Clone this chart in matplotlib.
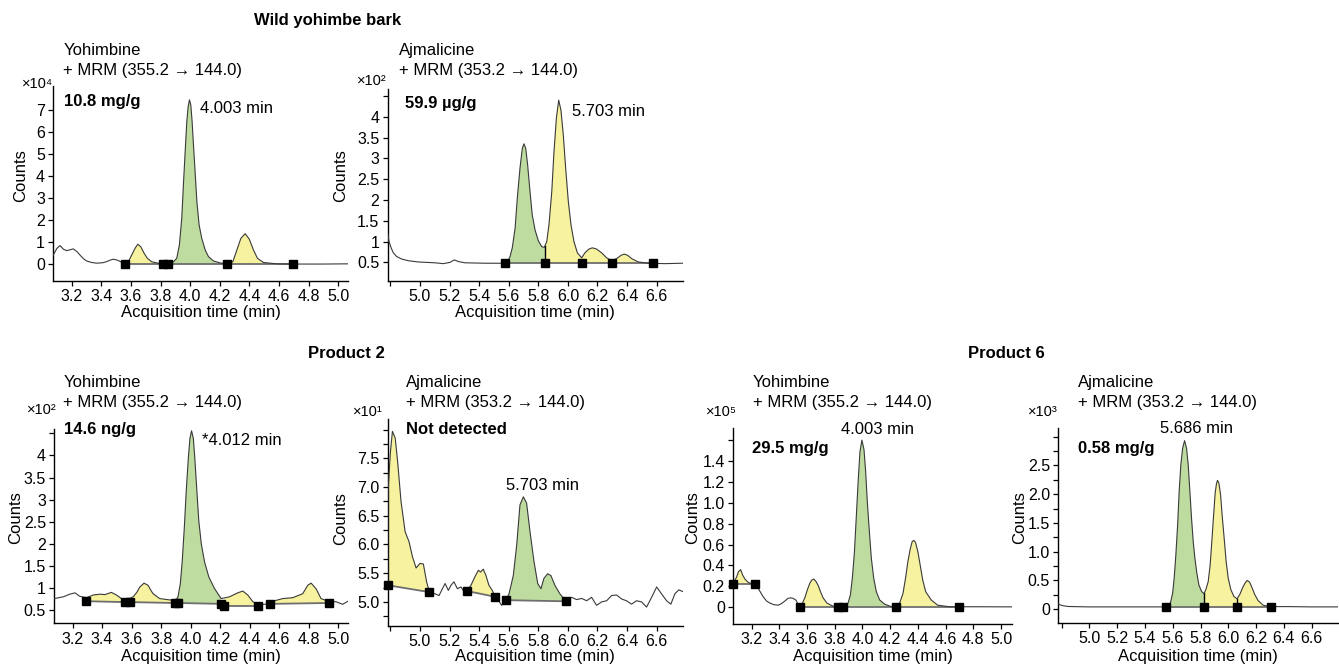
import numpy as np
import matplotlib
matplotlib.use("Agg")
import matplotlib.pyplot as plt

plt.rcParams["font.family"] = ["Liberation Sans", "DejaVu Sans"]
plt.rcParams["font.size"] = 12

W, H = 1339, 669

# --- chromatogram traces: (time min, counts in axis units) ---
bark_yoh = [(3.076, 0.42), (3.1, 0.72), (3.121, 0.85), (3.145, 0.68), (3.166, 0.62), (3.19, 0.66),
            (3.211, 0.70), (3.235, 0.58), (3.256, 0.42), (3.28, 0.25), (3.301, 0.15), (3.335, 0.08),
            (3.369, 0.05), (3.41, 0.07), (3.436, 0.12), (3.46, 0.19), (3.481, 0.23), (3.5, 0.20),
            (3.515, 0.17), (3.54, 0.08), (3.56, 0.05), (3.583, 0.12), (3.605, 0.42), (3.628, 0.73),
            (3.646, 0.91), (3.666, 0.80), (3.689, 0.50), (3.711, 0.27), (3.741, 0.11), (3.797, 0.03),
            (3.84, 0.02), (3.887, 0.12), (3.909, 0.27), (3.927, 0.88), (3.943, 2.09), (3.954, 3.60),
            (3.966, 5.12), (3.977, 6.48), (3.986, 7.16), (3.995, 7.47), (4.004, 7.24), (4.013, 6.48),
            (4.022, 5.42), (4.033, 4.21), (4.045, 2.85), (4.06, 1.79), (4.078, 1.18), (4.101, 0.65),
            (4.123, 0.35), (4.157, 0.15), (4.202, 0.06), (4.245, 0.03), (4.288, 0.12), (4.315, 0.65),
            (4.342, 1.18), (4.371, 1.39), (4.398, 1.15), (4.427, 0.65), (4.454, 0.27), (4.495, 0.08),
            (4.585, 0.02), (4.69, 0.01), (4.9, 0.01), (5.065, 0.02)]

bark_ajm = [(4.782, 1.20), (4.791, 1.00), (4.805, 0.85), (4.82, 0.73), (4.843, 0.64), (4.877, 0.58),
            (4.922, 0.54), (4.989, 0.51), (5.102, 0.49), (5.158, 0.47), (5.203, 0.50), (5.232, 0.56),
            (5.26, 0.52), (5.305, 0.49), (5.44, 0.48), (5.575, 0.48), (5.593, 0.52), (5.609, 0.64),
            (5.624, 0.85), (5.643, 1.32), (5.658, 2.04), (5.676, 2.76), (5.692, 3.24), (5.703, 3.35),
            (5.715, 3.24), (5.728, 2.84), (5.744, 2.20), (5.759, 1.64), (5.778, 1.28), (5.8, 1.02),
            (5.823, 0.88), (5.84, 0.86), (5.857, 1.00), (5.872, 1.40), (5.891, 2.20), (5.906, 3.16),
            (5.922, 3.96), (5.938, 4.40), (5.953, 4.16), (5.969, 3.56), (5.985, 2.76), (6.003, 1.96),
            (6.021, 1.40), (6.041, 1.00), (6.064, 0.73), (6.093, 0.61), (6.115, 0.73), (6.142, 0.82),
            (6.165, 0.85), (6.194, 0.82), (6.228, 0.73), (6.262, 0.61), (6.295, 0.54), (6.329, 0.59),
            (6.359, 0.67), (6.381, 0.70), (6.404, 0.67), (6.431, 0.59), (6.476, 0.51), (6.543, 0.48),
            (6.656, 0.47), (6.776, 0.48)]

p2_yoh = [(3.076, 0.76), (3.137, 0.80), (3.182, 0.86), (3.216, 0.89), (3.249, 0.81), (3.294, 0.78),
          (3.339, 0.84), (3.385, 0.86), (3.419, 0.85), (3.463, 0.90), (3.497, 0.84), (3.531, 0.76),
          (3.57, 0.74), (3.61, 0.80), (3.635, 0.90), (3.655, 1.02), (3.684, 1.11), (3.711, 1.06),
          (3.73, 0.95), (3.745, 0.87), (3.79, 0.76), (3.857, 0.73), (3.9, 0.72), (3.914, 0.80),
          (3.93, 1.10), (3.943, 1.62), (3.957, 2.37), (3.97, 3.20), (3.984, 3.94), (3.995, 4.39),
          (4.006, 4.56), (4.018, 4.39), (4.028, 3.94), (4.042, 3.20), (4.055, 2.52), (4.072, 2.00),
          (4.094, 1.59), (4.123, 1.25), (4.161, 0.99), (4.206, 0.76), (4.235, 0.78), (4.263, 0.80),
          (4.319, 0.89), (4.353, 0.93), (4.387, 0.84), (4.421, 0.69), (4.459, 0.62), (4.5, 0.63),
          (4.538, 0.66), (4.579, 0.72), (4.624, 0.76), (4.692, 0.78), (4.759, 0.87), (4.793, 1.06),
          (4.816, 1.11), (4.85, 0.98), (4.883, 0.76), (4.939, 0.69), (4.984, 0.69), (5.029, 0.63),
          (5.066, 0.70)]

p2_ajm = [(4.782, 5.29), (4.784, 6.90), (4.8, 7.60), (4.814, 7.97), (4.833, 7.85), (4.851, 7.39),
          (4.872, 6.75), (4.9, 6.22), (4.926, 6.05), (4.949, 5.79), (4.974, 5.59), (5.0, 5.67),
          (5.023, 5.66), (5.045, 5.35), (5.064, 5.17), (5.102, 5.14), (5.129, 5.11), (5.152, 5.23),
          (5.17, 5.32), (5.192, 5.20), (5.21, 5.29), (5.23, 5.35), (5.253, 5.23), (5.277, 5.26),
          (5.293, 5.20), (5.316, 5.19), (5.345, 5.29), (5.372, 5.44), (5.395, 5.55), (5.41, 5.52),
          (5.428, 5.57), (5.446, 5.46), (5.466, 5.29), (5.489, 5.20), (5.507, 5.09), (5.53, 5.03),
          (5.552, 4.94), (5.581, 5.03), (5.602, 5.14), (5.631, 5.46), (5.654, 5.99), (5.676, 6.69),
          (5.699, 6.83), (5.721, 6.72), (5.744, 6.22), (5.771, 5.70), (5.796, 5.32), (5.818, 5.23),
          (5.838, 5.41), (5.863, 5.49), (5.885, 5.46), (5.912, 5.29), (5.946, 5.14), (5.987, 5.01),
          (6.025, 5.08), (6.059, 5.04), (6.093, 5.06), (6.127, 5.02), (6.16, 5.08), (6.194, 4.94),
          (6.228, 5.00), (6.262, 5.02), (6.295, 5.11), (6.329, 5.12), (6.363, 5.05), (6.396, 5.02),
          (6.43, 4.96), (6.464, 5.02), (6.498, 5.00), (6.532, 4.91), (6.566, 5.08), (6.6, 5.26),
          (6.633, 5.14), (6.667, 5.02), (6.696, 4.96), (6.723, 5.14), (6.75, 5.21), (6.776, 5.18)]

p6_yoh = [(3.068, 0.22), (3.08, 0.26), (3.092, 0.29), (3.105, 0.34), (3.121, 0.36), (3.135, 0.31),
          (3.152, 0.27), (3.17, 0.245), (3.188, 0.23), (3.205, 0.225), (3.224, 0.22), (3.248, 0.18),
          (3.266, 0.14), (3.284, 0.10), (3.308, 0.06), (3.332, 0.04), (3.36, 0.025), (3.392, 0.02),
          (3.415, 0.035), (3.44, 0.06), (3.462, 0.085), (3.483, 0.09), (3.5, 0.085), (3.519, 0.07),
          (3.535, 0.03), (3.548, 0.01), (3.56, 0.02), (3.584, 0.09), (3.603, 0.17), (3.62, 0.23),
          (3.634, 0.26), (3.649, 0.27), (3.663, 0.25), (3.68, 0.21), (3.697, 0.15), (3.716, 0.09),
          (3.744, 0.04), (3.788, 0.01), (3.85, 0.005), (3.896, 0.04), (3.913, 0.12), (3.927, 0.28),
          (3.942, 0.53), (3.956, 0.88), (3.97, 1.23), (3.982, 1.49), (3.996, 1.60), (4.011, 1.51),
          (4.023, 1.30), (4.035, 1.01), (4.05, 0.72), (4.064, 0.47), (4.081, 0.28), (4.1, 0.15),
          (4.124, 0.07), (4.16, 0.03), (4.208, 0.006), (4.268, 0.04), (4.292, 0.13), (4.311, 0.28),
          (4.328, 0.44), (4.345, 0.56), (4.359, 0.63), (4.371, 0.64), (4.383, 0.62), (4.4, 0.53),
          (4.417, 0.40), (4.435, 0.26), (4.456, 0.15), (4.496, 0.07), (4.543, 0.02), (4.628, 0.005),
          (4.85, 0.005), (5.079, 0.004)]

p6_ajm = [(4.776, 0.087), (4.81, 0.06), (4.848, 0.047), (4.992, 0.04), (5.232, 0.04), (5.471, 0.04),
          (5.553, 0.04), (5.567, 0.045), (5.584, 0.12), (5.599, 0.28), (5.61, 0.54), (5.622, 0.94),
          (5.635, 1.47), (5.646, 2.05), (5.658, 2.51), (5.671, 2.80), (5.685, 2.93), (5.699, 2.80),
          (5.711, 2.51), (5.723, 2.05), (5.735, 1.58), (5.747, 1.18), (5.759, 0.89), (5.773, 0.63),
          (5.788, 0.42), (5.807, 0.31), (5.824, 0.27), (5.838, 0.34), (5.855, 0.48), (5.869, 0.77),
          (5.881, 1.18), (5.894, 1.64), (5.905, 2.02), (5.915, 2.19), (5.922, 2.24), (5.932, 2.19),
          (5.944, 1.99), (5.955, 1.64), (5.97, 1.23), (5.984, 0.83), (5.999, 0.54), (6.018, 0.34),
          (6.04, 0.22), (6.063, 0.18), (6.083, 0.26), (6.102, 0.37), (6.119, 0.45), (6.135, 0.50),
          (6.153, 0.47), (6.171, 0.37), (6.191, 0.25), (6.214, 0.15), (6.25, 0.07), (6.299, 0.045),
          (6.35, 0.045), (6.43, 0.045), (6.6, 0.04), (6.787, 0.04)]

# integration markers (time, counts)
bark_yoh_marks = [(3.56, 0.0), (3.817, 0.0), (3.851, 0.0), (4.249, 0.0), (4.695, 0.0)]
bark_ajm_marks = [(5.575, 0.48), (5.845, 0.48), (6.093, 0.48), (6.295, 0.48), (6.572, 0.48)]
p2_yoh_marks = [(3.294, 0.70), (3.553, 0.68), (3.587, 0.68), (3.891, 0.66), (3.914, 0.66),
                (4.206, 0.64), (4.229, 0.59), (4.459, 0.59), (4.538, 0.64), (4.939, 0.66)]
p2_ajm_marks = [(4.782, 5.29), (5.064, 5.17), (5.316, 5.19), (5.507, 5.09), (5.581, 5.03), (5.987, 5.01)]
p6_yoh_marks = [(3.068, 0.22), (3.224, 0.22), (3.548, 0.005), (3.824, 0.005), (3.86, 0.005),
                (4.239, 0.005), (4.695, 0.005)]
p6_ajm_marks = [(5.553, 0.03), (5.826, 0.03), (6.063, 0.03), (6.308, 0.03)]

# filled regions: (start marker, end marker, kind)  g = target peak, y = other
bark_yoh_fill = [(0, 1, "y"), (2, 3, "g"), (3, 4, "y")]
bark_ajm_fill = [(0, 1, "g"), (1, 2, "y"), (2, 3, "y"), (3, 4, "y")]
p2_yoh_fill = [(0, 1, "y"), (2, 3, "y"), (4, 5, "g"), (6, 7, "y"), (8, 9, "y")]
p2_ajm_fill = [(0, 1, "y"), (2, 3, "y"), (4, 5, "g")]
p6_yoh_fill = [(0, 1, "y"), (2, 3, "y"), (4, 5, "g"), (5, 6, "y")]
p6_ajm_fill = [(0, 1, "g"), (1, 2, "y"), (2, 3, "y")]

FILL = {"g": "#bedca0", "y": "#f7f2a0"}

fig = plt.figure(figsize=(W / 100, H / 100), dpi=100)


def fxy(x, y):
    return x / W, 1 - y / H


def put(x, y, s, **kw):
    fig.text(*fxy(x, y), s, **kw)


def panel(box, xlim, ylim, xt, xl, yt, yl, trace, marks, fills, dividers=()):
    L, T, R, B = box
    ax = fig.add_axes([L / W, 1 - B / H, (R - L) / W, (B - T) / H])
    t = np.array([p[0] for p in trace])
    c = np.array([p[1] for p in trace])
    mt = [m[0] for m in marks]
    mc = [m[1] for m in marks]
    for i, j, kind in fills:
        t0, c0, t1, c1 = mt[i], mc[i], mt[j], mc[j]
        inside = (t > t0) & (t < t1)
        xs = np.concatenate([[t0, t0], t[inside], [t1, t1]])
        ys = np.concatenate([[c0, np.interp(t0, t, c)], c[inside], [np.interp(t1, t, c), c1]])
        ax.fill(xs, ys, color=FILL[kind], lw=0, zorder=1)
        ax.plot([t0, t1], [c0, c1], color="#6e6e6e", lw=1.3, zorder=2)
    for i in dividers:
        ax.plot([mt[i], mt[i]], [mc[i], np.interp(mt[i], t, c)], color="k", lw=1.0, zorder=3)
    ax.plot(t, c, color="#3a3a3a", lw=0.8, zorder=3)
    ax.plot(mt, mc, "s", color="k", ms=6, zorder=4, clip_on=False)
    ax.set_xlim(xlim)
    ax.set_ylim(ylim)
    ax.set_xticks(xt, xl)
    ax.set_yticks(yt, yl)
    for s in ("top", "right"):
        ax.spines[s].set_visible(False)
    for s in ("left", "bottom"):
        ax.spines[s].set_linewidth(1.0)
    ax.tick_params(direction="out", length=3.5, width=0.9, labelsize=11.5, pad=2.5)
    ax.set_facecolor("none")
    cx = (L + R) / 2
    yb = B + 32 if B < 400 else 656
    put(cx, yb, "Acquisition time (min)", ha="center", va="center", fontsize=12)
    return ax


x_yoh = [3.2, 3.4, 3.6, 3.8, 4.0, 4.2, 4.4, 4.6, 4.8, 5.0]
x_yoh_lab = [f"{v:.1f}" for v in x_yoh]
x_ajm = [4.8, 5.0, 5.2, 5.4, 5.6, 5.8, 6.0, 6.2, 6.4, 6.6]
x_ajm_lab = [""] + [f"{v:.1f}" for v in x_ajm[1:]]
y_half = [0.5, 1, 1.5, 2, 2.5, 3, 3.5, 4, 4.5]
y_half_lab = ["0.5", "1", "1.5", "2", "2.5", "3", "3.5", "4", ""]

panel((53.3, 86, 348, 281), (3.076, 5.065), (-0.76, 8.1), x_yoh, x_yoh_lab,
      list(range(8)), [str(v) for v in range(8)], bark_yoh, bark_yoh_marks, bark_yoh_fill)
panel((387.7, 89.3, 682.7, 280.7), (4.782, 6.776), (0.06, 4.66), x_ajm, x_ajm_lab,
      y_half, y_half_lab, bark_ajm, bark_ajm_marks, bark_ajm_fill, dividers=[1])
panel((54.3, 429, 348.3, 623.3), (3.076, 5.068), (0.2, 4.6), x_yoh, x_yoh_lab,
      y_half, y_half_lab, p2_yoh, p2_yoh_marks, p2_yoh_fill)
y4 = [4.75 + 0.25 * k for k in range(14)]
y4_lab = [f"{v:.1f}" if (v * 2 == int(v * 2) and 5.0 <= v <= 7.5) else "" for v in y4]
panel((387.7, 419.3, 682.7, 626), (4.782, 6.776), (4.58, 8.18), x_ajm, x_ajm_lab,
      y4, y4_lab, p2_ajm, p2_ajm_marks, p2_ajm_fill)
y5 = [0.2 * k for k in range(9)]
y5_lab = ["0"] + [f"{v:.1f}" for v in y5[1:8]] + [""]
panel((733.3, 428.3, 1012, 624), (3.068, 5.079), (-0.16, 1.713), x_yoh, x_yoh_lab,
      y5, y5_lab, p6_yoh, p6_yoh_marks, p6_yoh_fill)
y6 = [0.25 * k for k in range(13)]
y6_lab = ["0"] + [f"{v:.1f}" if k % 2 == 0 and k < 12 else "" for k, v in enumerate(y6)][1:]
panel((1058.3, 428, 1337.7, 623), (4.776, 6.787), (-0.24, 3.15), x_ajm, x_ajm_lab,
      y6, y6_lab, p6_ajm, p6_ajm_marks, p6_ajm_fill, dividers=[1, 2])

# group headings
put(254, 25, "Wild yohimbe bark", fontweight="bold", va="baseline")
put(308, 358, "Product 2", fontweight="bold", va="baseline")
put(968, 358, "Product 6", fontweight="bold", va="baseline")

# panel headers
heads = [
    (63.3, 55, 75, "Yohimbine", "+ MRM (355.2 \u2192 144.0)"),
    (399.3, 55, 75, "Ajmalicine", "+ MRM (353.2 \u2192 144.0)"),
    (63.3, 387, 407, "Yohimbine", "+ MRM (355.2 \u2192 144.0)"),
    (405.7, 387, 407, "Ajmalicine", "+ MRM (353.2 \u2192 144.0)"),
    (752.7, 387, 407, "Yohimbine", "+ MRM (355.2 \u2192 144.0)"),
    (1078.3, 387, 407, "Ajmalicine", "+ MRM (353.2 \u2192 144.0)"),
]
for x, b1, b2, name, mrm in heads:
    put(x, b1, name, va="baseline")
    put(x, b2, mrm, va="baseline")

# axis multipliers
for x, y, s in [(53, 88, "\u00d710\u2074"), (387, 85, "\u00d710\u00b2"), (57, 414, "\u00d710\u00b2"),
                (383, 416, "\u00d710\u00b9"), (737, 416, "\u00d710\u2075"), (1058, 416, "\u00d710\u00b3")]:
    put(x, y, s, ha="right", va="baseline", fontsize=10.5)

# y labels
for x, y in [(20.7, 176), (341, 176), (15.7, 518), (340.5, 519), (693, 518), (1019.5, 518)]:
    put(x, y, "Counts", rotation=90, ha="center", va="center")

# amounts
for x, y, s in [(64.3, 106, "10.8 mg/g"), (405, 108, "59.9 \u00b5g/g"), (64.3, 434, "14.6 ng/g"),
                (405.7, 434, "Not detected"), (752, 453, "29.5 mg/g"), (1078, 453, "0.58 mg/g")]:
    put(x, y, s, fontweight="bold", va="baseline")

# retention times
put(200, 113, "4.003 min", va="baseline")
put(572, 116, "5.703 min", va="baseline")
put(202, 445, "*4.012 min", va="baseline")
put(543, 490, "5.703 min", ha="center", va="baseline")
put(877.5, 434, "4.003 min", ha="center", va="baseline")
put(1196.5, 433, "5.686 min", ha="center", va="baseline")

fig.savefig("out.png", dpi=100)
